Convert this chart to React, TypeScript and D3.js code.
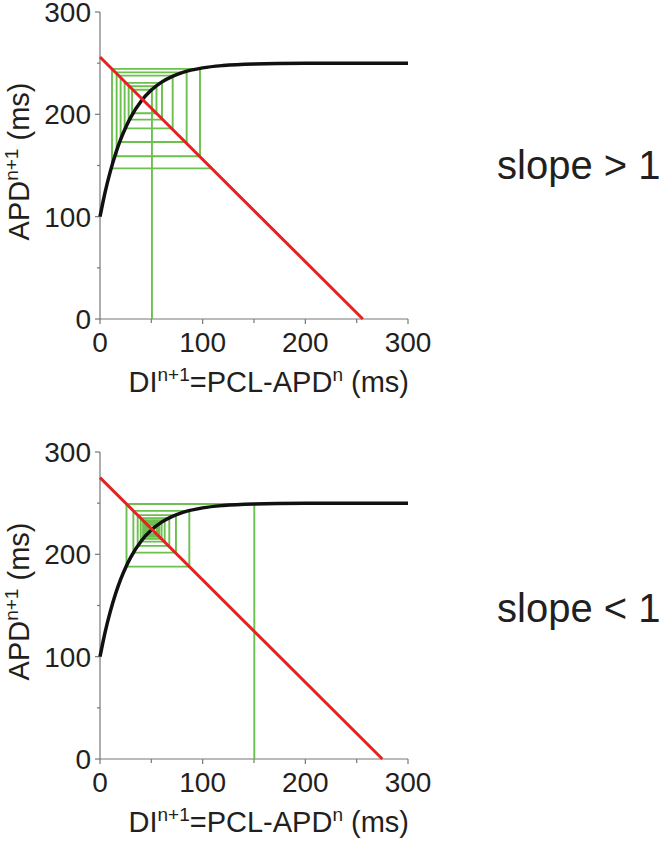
import React, { useEffect, useRef } from "react";
import * as d3 from "d3";

// restitution curve APD(n+1) vs DI(n+1) (same in both panels)
const curveDI = [0, 5, 10, 15, 20, 25, 30, 40, 50, 60, 70, 80, 100, 120, 150, 200, 250, 300];
const curveAPD = [100, 124, 144, 161, 175.3, 187.2, 197.3, 212.8, 223.7, 231.5, 236.9, 240.8, 245.4, 247.7, 249.2, 249.9, 250, 250];

// PCL of the red line DI = PCL - APD in each panel
const pclValues = [256, 275];

// cobweb, top panel (diverging): x of each vertical, y of each horizontal
const topCobDI = [50.6, 31.2, 55, 27.9, 60.4, 24, 70.8, 20.1, 84.4, 16.2, 97.4, 11.7, 108.7];
const topCobAPD = [224, 201, 227.4, 194.8, 230.7, 186.3, 237.8, 173, 241, 159, 244.4, 147.2];

// cobweb, bottom panel (converging)
const botCobDI = [150.3, 25.8, 87, 32.5, 74, 36.7, 67.5, 39.7, 63, 42, 60, 43.7, 57.7, 45.1, 56.2, 46.1, 55.2, 46.8, 54.5];
const botCobAPD = [249.2, 188, 242.5, 201.7, 238.3, 208.3, 235.3, 212.4, 233.1, 215.2, 231.3, 217.3, 229.9, 218.8, 228.9, 219.8, 228.2, 220.5];

const majorTicks = [0, 100, 200, 300];
const minorTicks = [50, 150, 250];
const slopeLabels = ["slope > 1", "slope < 1"];

const FONT = "'Liberation Sans', Arial, Helvetica, sans-serif";
const TXT = "#231f20";

export default function App() {
  const ref = useRef<SVGSVGElement>(null);

  useEffect(() => {
    const svg = d3.select(ref.current);
    svg.selectAll("*").remove();

    const x = d3.scaleLinear().domain([0, 300]).range([100, 408]);
    const panels = [
      { top: 12, bottom: 319, cobDI: topCobDI, cobAPD: topCobAPD, pcl: pclValues[0], label: slopeLabels[0], labelY: 179 },
      { top: 452, bottom: 759, cobDI: botCobDI, cobAPD: botCobAPD, pcl: pclValues[1], label: slopeLabels[1], labelY: 622 },
    ];

    panels.forEach(p => {
      const y = d3.scaleLinear().domain([0, 300]).range([p.bottom, p.top]);
      const g = svg.append("g");

      // axes
      g.append("line").attr("x1", x(0)).attr("x2", x(0)).attr("y1", y(0)).attr("y2", y(300))
        .attr("stroke", "#777").attr("stroke-width", 1.2);
      g.append("line").attr("x1", x(0)).attr("x2", x(300)).attr("y1", y(0)).attr("y2", y(0))
        .attr("stroke", "#777").attr("stroke-width", 1.2);

      majorTicks.forEach(t => {
        g.append("line").attr("x1", x(0) - 5).attr("x2", x(0)).attr("y1", y(t)).attr("y2", y(t))
          .attr("stroke", "#777").attr("stroke-width", 1.2);
        g.append("line").attr("x1", x(t)).attr("x2", x(t)).attr("y1", y(0)).attr("y2", y(0) + 5)
          .attr("stroke", "#777").attr("stroke-width", 1.2);
        g.append("text").text(t).attr("x", x(0) - 9).attr("y", y(t)).attr("dy", "0.36em")
          .attr("text-anchor", "end").attr("font-family", FONT).attr("font-size", 28).attr("fill", TXT);
        g.append("text").text(t).attr("x", x(t)).attr("y", y(0) + 33)
          .attr("text-anchor", "middle").attr("font-family", FONT).attr("font-size", 28).attr("fill", TXT);
      });
      minorTicks.forEach(t => {
        g.append("line").attr("x1", x(0) - 3).attr("x2", x(0)).attr("y1", y(t)).attr("y2", y(t))
          .attr("stroke", "#777").attr("stroke-width", 1.2);
        g.append("line").attr("x1", x(t)).attr("x2", x(t)).attr("y1", y(0)).attr("y2", y(0) + 4)
          .attr("stroke", "#777").attr("stroke-width", 1.2);
      });

      // cobweb
      const pts: [number, number][] = [[p.cobDI[0], 0]];
      p.cobAPD.forEach((a, i) => {
        pts.push([p.cobDI[i], a]);
        pts.push([p.cobDI[i + 1], a]);
      });
      g.append("path")
        .attr("d", d3.line<[number, number]>().x(d => x(d[0])).y(d => y(d[1]))(pts))
        .attr("fill", "none").attr("stroke", "#6cc04e").attr("stroke-width", 1.9);

      // restitution curve
      const line = d3.line<number>().x((d, i) => x(curveDI[i])).y(d => y(d)).curve(d3.curveMonotoneX);
      g.append("path").attr("d", line(curveAPD))
        .attr("fill", "none").attr("stroke", "#111").attr("stroke-width", 3.5);

      // DI = PCL - APD
      g.append("line").attr("x1", x(0)).attr("y1", y(p.pcl)).attr("x2", x(p.pcl)).attr("y2", y(0))
        .attr("stroke", "#e42320").attr("stroke-width", 3);

      // x title
      const xt = g.append("text").attr("x", 409).attr("y", p.bottom + 73).attr("text-anchor", "end")
        .attr("font-family", FONT).attr("font-size", 29).attr("fill", TXT);
      xt.append("tspan").text("DI");
      xt.append("tspan").text("n+1").attr("font-size", 19).attr("dy", -11);
      xt.append("tspan").text("=PCL-APD").attr("dy", 11);
      xt.append("tspan").text("n").attr("font-size", 19).attr("dy", -11);
      xt.append("tspan").text(" (ms)").attr("dy", 11);

      // y title
      const cy = (p.top + p.bottom) / 2 - 4;
      const yt = g.append("text").attr("transform", `translate(29,${cy}) rotate(-90)`)
        .attr("text-anchor", "middle").attr("font-family", FONT).attr("font-size", 29).attr("fill", TXT);
      yt.append("tspan").text("APD");
      yt.append("tspan").text("n+1").attr("font-size", 19).attr("dy", -11);
      yt.append("tspan").text(" (ms)").attr("dy", 11);

      // slope label
      g.append("text").text(p.label).attr("x", 497).attr("y", p.labelY)
        .attr("font-family", FONT).attr("font-size", 40).attr("fill", TXT);
    });
  }, []);

  return (
    <svg ref={ref} width={664} height={841}
      style={{ position: "absolute", left: 0, top: 0, background: "#fff" }} />
  );
}
